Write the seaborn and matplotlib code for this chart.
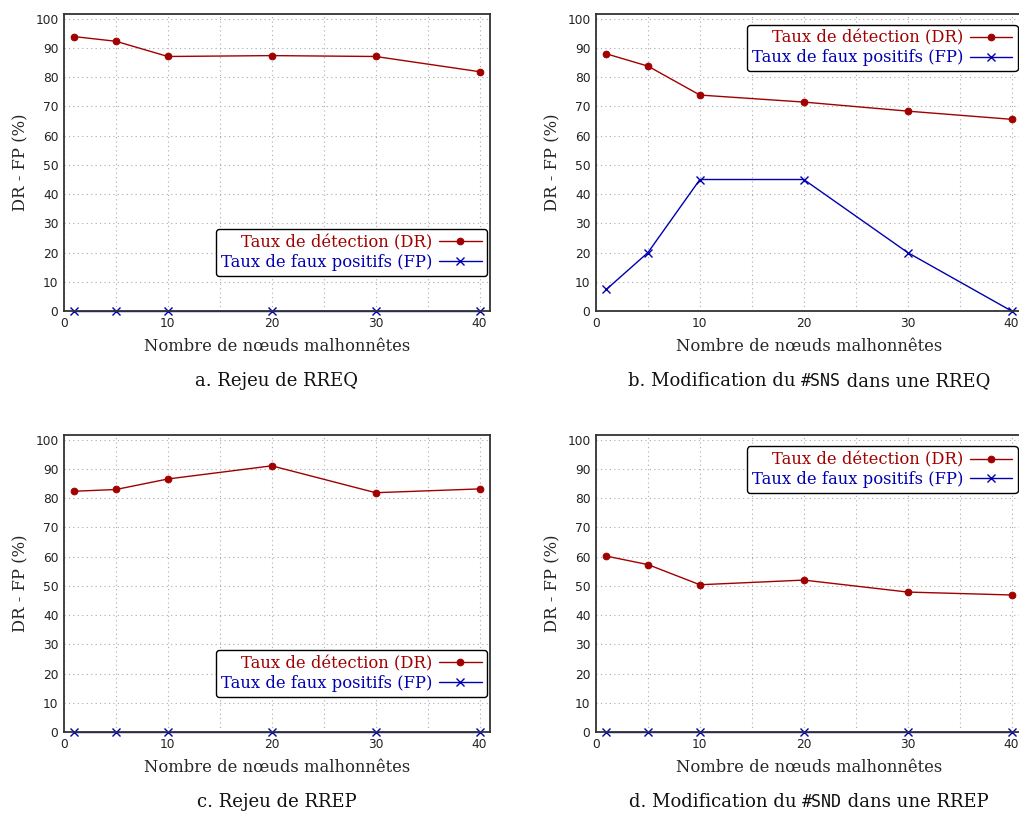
import seaborn as sns
import matplotlib.pyplot as plt
from matplotlib.offsetbox import TextArea, HPacker, AnchoredOffsetbox

# nombre de noeuds malhonnetes
noeuds = [1, 5, 10, 20, 30, 40]

dr_a = [93.9, 92.3, 87.1, 87.4, 87.1, 81.9]
fp_a = [0, 0, 0, 0, 0, 0]

dr_b = [88.0, 83.8, 73.9, 71.5, 68.4, 65.6]
fp_b = [7.4, 20.0, 45.0, 45.0, 20.0, 0]

dr_c = [82.4, 83.0, 86.6, 91.1, 81.9, 83.2]
fp_c = [0, 0, 0, 0, 0, 0]

dr_d = [60.2, 57.3, 50.4, 52.0, 47.9, 46.9]
fp_d = [0, 0, 0, 0, 0, 0]

legendes = ['Taux de détection (DR)', 'Taux de faux positifs (FP)']
# (texte, police mono ?) pour chaque morceau de la legende sous le graphe
titres = [[('a. Rejeu de RREQ', False)],
          [('b. Modification du ', False), ('#SNS', True), (' dans une RREQ', False)],
          [('c. Rejeu de RREP', False)],
          [('d. Modification du ', False), ('#SND', True), (' dans une RREP', False)]]

ROUGE = '#a00000'
BLEU = '#0000b0'

sns.set_style('white')
plt.rcParams['font.family'] = ['DejaVu Serif']

fig = plt.figure(figsize=(10.19, 8.15), dpi=100)

positions = [(0.0628, 0.6184), (0.5849, 0.6184), (0.0628, 0.1018), (0.5849, 0.1018)]
donnees = [(dr_a, fp_a), (dr_b, fp_b), (dr_c, fp_c), (dr_d, fp_d)]
legende_pos = [('lower right', (0.993, 0.118)), ('upper right', (0.99, 0.963)),
               ('lower right', (0.993, 0.118)), ('upper right', (0.99, 0.96))]

for i in range(4):
    ax = fig.add_axes([positions[i][0], positions[i][1], 0.418, 0.365])
    dr, fp = donnees[i]
    sns.lineplot(x=noeuds, y=dr, ax=ax, color=ROUGE, marker='o', markersize=4.8,
                 markeredgecolor=ROUGE, linewidth=1.0, label=legendes[0], clip_on=False)
    sns.lineplot(x=noeuds, y=fp, ax=ax, color=BLEU, marker='x', markersize=6,
                 markeredgecolor=BLEU, markeredgewidth=1.0, linewidth=1.0,
                 label=legendes[1], clip_on=False)
    ax.set_xlim(0, 41)
    ax.set_ylim(0, 101.8)
    ax.set_xticks([0, 10, 20, 30, 40])
    ax.set_xticks([5, 15, 25, 35], minor=True)
    ax.set_yticks(range(0, 101, 10))
    ax.tick_params(axis='both', which='both', length=0, labelsize=8.8, pad=4)
    for lab in ax.get_xticklabels() + ax.get_yticklabels():
        lab.set_family('DejaVu Sans')
        lab.set_color('#222222')
    ax.grid(True, which='both', linestyle=(0, (1, 3)), color='#aaaaaa', linewidth=0.8)
    for s in ax.spines.values():
        s.set_color('#333333')
        s.set_linewidth(1.3)
    ax.set_xlabel('Nombre de nœuds malhonnêtes', fontsize=11.8, labelpad=6)
    ax.set_ylabel('DR - FP (%)', fontsize=11.8, labelpad=4)
    loc, bb = legende_pos[i]
    leg = ax.legend(loc=loc, bbox_to_anchor=bb, borderaxespad=0, markerfirst=False,
                    fontsize=11.8, frameon=True, fancybox=True, framealpha=1,
                    edgecolor='black', handlelength=2.6, handletextpad=0.4,
                    borderpad=0.32, labelspacing=0.15, alignment='right')
    leg.get_frame().set_linewidth(1.0)
    leg.get_texts()[0].set_color(ROUGE)
    leg.get_texts()[1].set_color(BLEU)
    for t in leg.get_texts():
        t.set_ha('right')

    morceaux = []
    for txt, mono in titres[i]:
        fam = 'DejaVu Sans Mono' if mono else 'DejaVu Serif'
        taille = 12 if mono else 13
        morceaux.append(TextArea(txt, textprops=dict(family=fam, fontsize=taille,
                                                     color='#111111')))
    boite = HPacker(children=morceaux, align='baseline', pad=0, sep=0)
    anc = AnchoredOffsetbox(loc='center', child=boite, frameon=False,
                            bbox_to_anchor=(0.5, -0.236), bbox_transform=ax.transAxes,
                            borderpad=0, pad=0)
    ax.add_artist(anc)

fig.savefig('out.png', dpi=100)
